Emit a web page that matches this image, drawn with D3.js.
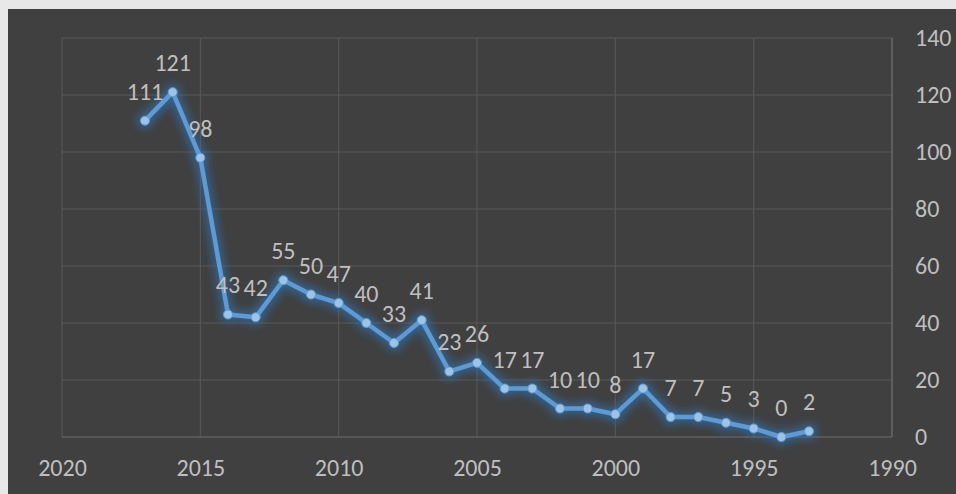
<!DOCTYPE html>
<html><head><meta charset="utf-8">
<script src="https://cdn.jsdelivr.net/npm/d3@7"></script>
<style>
html,body{margin:0;padding:0;background:#f2f2f2;}
svg{display:block;}
</style></head>
<body>
<svg id="c" width="956" height="494"></svg>
<script>
const years = [2017,2016,2015,2014,2013,2012,2011,2010,2009,2008,2007,2006,2005,2004,2003,2002,2001,2000,1999,1998,1997,1996,1995,1994,1993];
const values = [111,121,98,43,42,55,50,47,40,33,41,23,26,17,17,10,10,8,17,7,7,5,3,0,2];
const xTicks = [2020,2015,2010,2005,2000,1995,1990];
const yTicks = [0,20,40,60,80,100,120,140];

const FONT = "Carlito, 'Open Sans', 'Liberation Sans', sans-serif";
const svg = d3.select("#c");
const W = 956, H = 494;
svg.append("rect").attr("x",0).attr("y",0).attr("width",W).attr("height",H).attr("fill","#e8e8e8");
svg.append("rect").attr("x",8).attr("y",9).attr("width",W-8).attr("height",H-9).attr("fill","#404040");

const x = d3.scaleLinear().domain([2020,1990]).range([62,892]);
const y = d3.scaleLinear().domain([0,140]).range([437,38]);

const defs = svg.append("defs");
const f = defs.append("filter").attr("id","glow").attr("x","-20%").attr("y","-20%").attr("width","140%").attr("height","140%");
f.append("feMorphology").attr("in","SourceAlpha").attr("operator","dilate").attr("radius",2).attr("result","d");
f.append("feGaussianBlur").attr("in","d").attr("stdDeviation",5).attr("result","b");
f.append("feFlood").attr("flood-color","#2e75b6").attr("flood-opacity",0.75).attr("result","fl");
f.append("feComposite").attr("in","fl").attr("in2","b").attr("operator","in").attr("result","gl");
const m = f.append("feMerge");
m.append("feMergeNode").attr("in","gl");
m.append("feMergeNode").attr("in","SourceGraphic");

const g = svg.append("g");
g.selectAll("line.h").data(yTicks.filter(d=>d>0)).join("line")
  .attr("x1",62).attr("x2",892).attr("y1",d=>y(d)).attr("y2",d=>y(d))
  .attr("stroke","#585858").attr("stroke-width",1);
g.selectAll("line.v").data(xTicks.filter(d=>d!==1990)).join("line")
  .attr("y1",38).attr("y2",437).attr("x1",d=>x(d)).attr("x2",d=>x(d))
  .attr("stroke","#585858").attr("stroke-width",1);
g.append("line").attr("x1",62).attr("x2",892).attr("y1",y(0)).attr("y2",y(0)).attr("stroke","#6e6e6e");
g.append("line").attr("x1",x(1990)).attr("x2",x(1990)).attr("y1",38).attr("y2",437).attr("stroke","#7a7a7a");

const xAxis = d3.axisBottom(x).tickValues(xTicks).tickFormat(d3.format("d")).tickSize(0).tickPadding(22);
const ax = svg.append("g").attr("transform",`translate(0,${y(0)})`).call(xAxis);
ax.select(".domain").remove();
ax.selectAll("text").attr("fill","#bfbfbf").style("font-family",FONT).style("font-size","24px");

const yAxis = d3.axisRight(y).tickValues(yTicks).tickSize(0).tickPadding(23);
const ay = svg.append("g").attr("transform",`translate(${x(1990)},0)`).call(yAxis);
ay.select(".domain").remove();
ay.selectAll("text").attr("fill","#bfbfbf").style("font-family",FONT).style("font-size","24px");

const data = years.map((yr,i)=>({yr, v:values[i]}));
const line = d3.line().x(d=>x(d.yr)).y(d=>y(d.v));
const lg = svg.append("g").attr("filter","url(#glow)");
lg.append("path").datum(data).attr("d",line).attr("fill","none")
  .attr("stroke","#5b9bd5").attr("stroke-width",4.5).attr("stroke-linejoin","round");
lg.selectAll("circle").data(data).join("circle")
  .attr("cx",d=>x(d.yr)).attr("cy",d=>y(d.v)).attr("r",4.5)
  .attr("fill","#9dc3e6").attr("stroke","#5b9bd5").attr("stroke-width",1);

svg.append("g").selectAll("text").data(data).join("text")
  .attr("x",d=>x(d.yr)).attr("y",d=>y(d.v)-21)
  .attr("text-anchor","middle")
  .attr("fill","#bfbfbf")
  .style("font-family",FONT).style("font-size","24px")
  .text(d=>d.v);
</script>
</body></html>
